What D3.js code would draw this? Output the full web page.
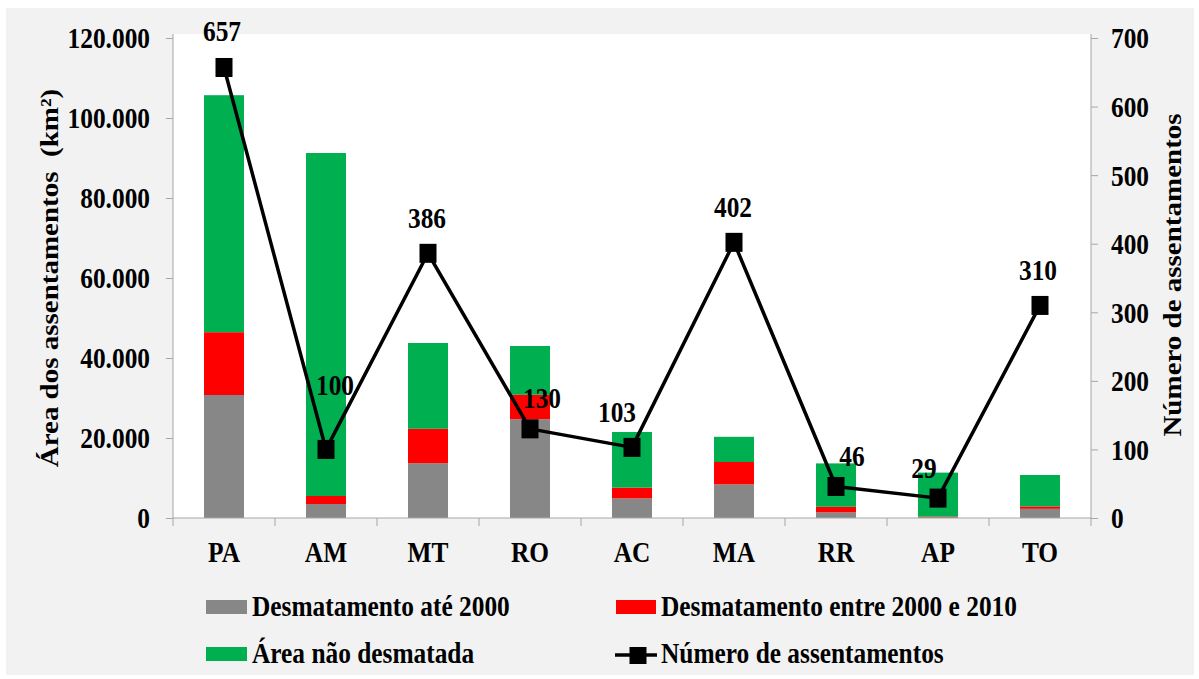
<!DOCTYPE html>
<html>
<head>
<meta charset="utf-8">
<script src="https://cdn.jsdelivr.net/npm/d3@7"></script>
<style>
  html, body { margin: 0; padding: 0; background: #ffffff; }
  svg { display: block; }
  text { font-family: "Liberation Serif", "Times New Roman", serif; font-weight: bold; fill: #000; white-space: pre; }
</style>
</head>
<body>
<svg id="chart" width="1199" height="679"></svg>
<script>
// ---- data ----
const categories = ["PA", "AM", "MT", "RO", "AC", "MA", "RR", "AP", "TO"];
const desmatAte2000 = [30750, 3500, 13700, 24700, 4900, 8400, 1400, 100, 2300];
const desmat2000a2010 = [15700, 2000, 8600, 6100, 2700, 5600, 1400, 250, 600];
const areaNaoDesmatada = [59250, 85750, 21450, 12200, 13900, 6300, 10850, 11000, 7850];
const numeroAssentamentos = [657, 100, 386, 130, 103, 402, 46, 29, 310];
const leftTicks = [0, 20000, 40000, 60000, 80000, 100000, 120000];
const rightTicks = [0, 100, 200, 300, 400, 500, 600, 700];
const seriesNames = ["Desmatamento até 2000", "Desmatamento entre 2000 e 2010", "Área não desmatada", "Número de assentamentos"];
// label nudges (styling, px)
const labelDx = [-2, 9, -1, 12, -15, -1, 16, -14, -2];
const labelDy = [-26, -54, -25, -21, -25, -25, -20, -20, -25];

// ---- layout / style ----
const SX = 0.875;           // horizontal squish of text (reference is stretched)
const FS = 29;
const colors = ["#878787", "#ff0000", "#00b050"];
const axisColor = "#a6a6a6";
const plot = { left: 173, right: 1091, top: 34, bottom: 518 };

const svg = d3.select("#chart");
svg.append("rect").attr("x", 6).attr("y", 8).attr("width", 1188).attr("height", 667).attr("fill", "#f2f2f2");
svg.append("rect").attr("x", plot.left).attr("y", plot.top)
  .attr("width", plot.right - plot.left).attr("height", plot.bottom - plot.top).attr("fill", "#ffffff");

const x = d3.scaleBand().domain(categories).range([plot.left, plot.right]).paddingInner(0.608).paddingOuter(0.304);
const yL = d3.scaleLinear().domain([0, 120000]).range([518, 38]);
const yR = d3.scaleLinear().domain([0, 700]).range([518, 38]);

function txt(g, px, py, s, anchor, rotated, size) {
  return g.append("text")
    .attr("transform", `translate(${px},${py})` + (rotated ? ` rotate(-90) scale(1,${SX})` : ` scale(${SX},1)`))
    .attr("text-anchor", anchor || "start")
    .style("font-size", (size || FS) + "px")
    .text(s);
}

// ---- stacked bars ----
const rows = categories.map((c, i) => ({ cat: c, a: desmatAte2000[i], b: desmat2000a2010[i], c: areaNaoDesmatada[i] }));
const stack = d3.stack().keys(["a", "b", "c"])(rows);
stack.forEach((layer, li) => {
  svg.append("g").selectAll("rect").data(layer).join("rect")
    .attr("x", d => x(d.data.cat))
    .attr("width", x.bandwidth())
    .attr("y", d => yL(d[1]))
    .attr("height", d => Math.max(0, yL(d[0]) - yL(d[1])))
    .attr("fill", colors[li]);
});

// ---- axes ----
const loc = d3.formatLocale({ decimal: ",", thousands: ".", grouping: [3], currency: ["", ""] });
const fmt = loc.format(",");

function styleTickText(sel) {
  sel.attr("transform", `scale(${SX},1)`).style("font-size", FS + "px")
    .style("font-family", "Liberation Serif, serif").style("font-weight", "bold").attr("fill", "#000");
}

const gL = svg.append("g").attr("transform", `translate(${plot.left},0)`)
  .call(d3.axisLeft(yL).tickValues(leftTicks).tickFormat(fmt).tickSize(7).tickSizeOuter(0));
gL.select(".domain").attr("stroke", axisColor).attr("d", `M0,${plot.top}V${plot.bottom}`);
gL.selectAll(".tick line").attr("stroke", axisColor);
gL.selectAll(".tick text").attr("x", -23 / SX).attr("dy", "0.34em").call(styleTickText);

const gR = svg.append("g").attr("transform", `translate(${plot.right},0)`)
  .call(d3.axisRight(yR).tickValues(rightTicks).tickSize(7).tickSizeOuter(0));
gR.select(".domain").attr("stroke", axisColor).attr("d", `M0,${plot.top}V${plot.bottom}`);
gR.selectAll(".tick line").attr("stroke", axisColor);
gR.selectAll(".tick text").attr("x", 20 / SX).attr("dy", "0.34em").call(styleTickText);

const gB = svg.append("g").attr("transform", `translate(0,${plot.bottom})`)
  .call(d3.axisBottom(x).tickSize(0).tickSizeOuter(0));
gB.select(".domain").attr("stroke", axisColor).attr("d", `M${plot.left},0H${plot.right}`);
gB.selectAll(".tick text").attr("y", 44).attr("dy", 0).call(styleTickText);
// band boundary ticks
const bounds = d3.range(categories.length + 1).map(i => plot.left + i * x.step());
gB.selectAll(".bnd").data(bounds).join("line").attr("class", "bnd")
  .attr("x1", d => d).attr("x2", d => d).attr("y1", 0).attr("y2", 8).attr("stroke", axisColor);

// ---- line series ----
const pts = categories.map((c, i) => [x(c) + x.bandwidth() / 2, yR(numeroAssentamentos[i])]);
svg.append("path").datum(pts).attr("d", d3.line()).attr("fill", "none")
  .attr("stroke", "#000").attr("stroke-width", 3.5).attr("stroke-linejoin", "round");
svg.append("g").selectAll("rect").data(pts).join("rect")
  .attr("x", d => d[0] - 8.5).attr("y", d => d[1] - 9.5).attr("width", 17).attr("height", 19).attr("fill", "#000");
const gLab = svg.append("g");
pts.forEach((p, i) => txt(gLab, p[0] + labelDx[i], p[1] + labelDy[i], String(numeroAssentamentos[i]), "middle"));

// ---- axis titles ----
txt(svg, 58, 278, "Área dos assentamentos  (km²)", "middle", true);
txt(svg, 1181, 275, "Número de assentamentos", "middle", true);

// ---- legend ----
const lg = svg.append("g");
lg.append("rect").attr("x", 206).attr("y", 600).attr("width", 41).attr("height", 14).attr("fill", colors[0]);
txt(lg, 252, 616, seriesNames[0]);
lg.append("rect").attr("x", 616).attr("y", 600).attr("width", 40).attr("height", 14).attr("fill", colors[1]);
txt(lg, 661, 616, seriesNames[1]);
lg.append("rect").attr("x", 206).attr("y", 647).attr("width", 41).attr("height", 14).attr("fill", colors[2]);
txt(lg, 252, 663, seriesNames[2]);
lg.append("line").attr("x1", 615).attr("x2", 657).attr("y1", 655).attr("y2", 655).attr("stroke", "#000").attr("stroke-width", 3.5);
lg.append("rect").attr("x", 629.5).attr("y", 647).attr("width", 17).attr("height", 17).attr("fill", "#000");
txt(lg, 661, 663, seriesNames[3]);
</script>
</body>
</html>
